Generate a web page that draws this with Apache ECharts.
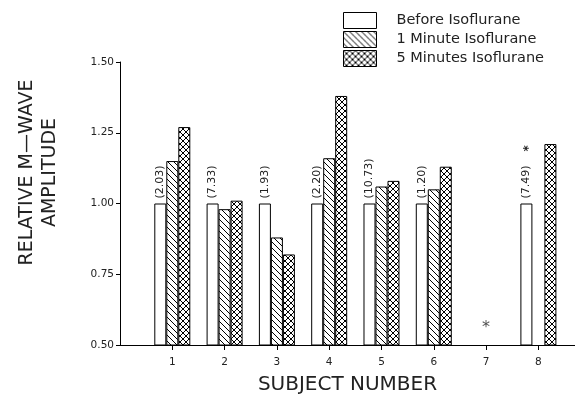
<!DOCTYPE html>
<html>
<head>
<meta charset="utf-8">
<script src="https://cdn.jsdelivr.net/npm/echarts@6/dist/echarts.min.js"></script>
<style>html,body{margin:0;padding:0;background:#fff;}#c{width:575px;height:408px;}</style>
</head>
<body>
<div id="c"></div>
<script>
const subjects = [1, 2, 3, 4, 5, 6, 7, 8];
const before = [1.00, 1.00, 1.00, 1.00, 1.00, 1.00, null, 1.00];
const oneMin = [1.15, 0.98, 0.88, 1.16, 1.06, 1.05, null, null];
const fiveMin = [1.27, 1.01, 0.82, 1.38, 1.08, 1.13, null, 1.21];
const baseLabels = ['(2.03)', '(7.33)', '(1.93)', '(2.20)', '(10.73)', '(1.20)', '', '(7.49)'];
const baseStars = ['', '', '', '', '', '', '', '*'];
const starPoints = [[7, 0.56]];
const seriesNames = ['Before Isoflurane', '1 Minute Isoflurane', '5 Minutes Isoflurane'];

function hatch(size, cross) {
  const c = document.createElement('canvas');
  c.width = size; c.height = size;
  const g = c.getContext('2d');
  g.fillStyle = '#fff'; g.fillRect(0, 0, size, size);
  g.fillStyle = '#000';
  for (let i = 0; i < size; i++) {
    g.fillRect(i, i, 1, 1);
    if (cross) g.fillRect(size - 1 - i, i, 1, 1);
  }
  return c;
}
const pat1 = { image: hatch(6, false), repeat: 'repeat' };
const pat5 = { image: hatch(6, true), repeat: 'repeat' };

const FONT = 'DejaVu Sans';
const chart = echarts.init(document.getElementById('c'), null, { renderer: 'canvas' });
const pairs = arr => subjects.map((s, i) => [s, arr[i]]);

chart.setOption({
  backgroundColor: '#fff',
  animation: false,
  textStyle: { fontFamily: FONT, color: '#222' },
  legend: {
    orient: 'vertical', left: 343, top: 12, padding: 0,
    itemWidth: 33, itemHeight: 16, itemGap: 2,
    icon: 'rect',
    data: seriesNames,
    itemStyle: { borderColor: '#000', borderWidth: 1 },
    textStyle: { fontFamily: FONT, fontSize: 14.5, color: '#222', padding: [0, 0, 0, 15] }
  },
  grid: { left: 120, right: 0, top: 62, bottom: 63 },
  xAxis: {
    type: 'value', min: 0, max: 8.7, interval: 1,
    name: 'SUBJECT NUMBER', nameLocation: 'middle', nameGap: 30,
    nameTextStyle: { fontFamily: FONT, fontSize: 20, color: '#222' },
    splitLine: { show: false },
    axisLine: { lineStyle: { color: '#000', width: 1 } },
    axisTick: { show: true, length: 5, lineStyle: { color: '#000' }, customValues: subjects },
    axisLabel: { fontSize: 10.5, color: '#222', margin: 12, customValues: subjects }
  },
  yAxis: {
    type: 'value', min: 0.5, max: 1.5, interval: 0.25,
    name: 'RELATIVE M\u2014WAVE\nAMPLITUDE', nameLocation: 'middle', nameGap: 58, nameRotate: 90,
    nameTextStyle: { fontFamily: FONT, fontSize: 19, color: '#222', lineHeight: 23, padding: [0, 0, 0, 62] },
    splitLine: { show: false },
    axisLine: { show: true, lineStyle: { color: '#000', width: 1 } },
    axisTick: { show: true, length: 4, lineStyle: { color: '#000' } },
    axisLabel: { fontSize: 10.5, color: '#222', margin: 6, formatter: v => v.toFixed(2) }
  },
  series: [
    {
      name: seriesNames[0], type: 'bar', barWidth: 12, barGap: '0%',
      data: pairs(before),
      itemStyle: { color: '#fff', borderColor: '#000', borderWidth: 1 },
      label: {
        show: true, position: 'top', rotate: 90, align: 'left', verticalAlign: 'middle',
        distance: 5, fontSize: 11, color: '#222', fontFamily: FONT,
        formatter: p => baseLabels[p.dataIndex] + (baseStars[p.dataIndex] ? '    {s|' + baseStars[p.dataIndex] + '}' : ''),
        rich: { s: { fontSize: 12, fontWeight: 'bold', color: '#222', fontFamily: FONT, padding: [4, 0, 0, 0] } }
      }
    },
    {
      name: seriesNames[1], type: 'bar', barWidth: 12, barGap: '0%',
      data: pairs(oneMin),
      itemStyle: { color: pat1, borderColor: '#000', borderWidth: 1 }
    },
    {
      name: seriesNames[2], type: 'bar', barWidth: 12, barGap: '0%',
      data: pairs(fiveMin),
      itemStyle: { color: pat5, borderColor: '#000', borderWidth: 1 }
    },
    {
      name: 'note', type: 'scatter', data: starPoints, symbolSize: 1,
      itemStyle: { color: 'rgba(0,0,0,0)' },
      label: { show: true, position: 'inside', formatter: '*', fontSize: 16, color: '#222' }
    }
  ]
});
</script>
</body>
</html>
